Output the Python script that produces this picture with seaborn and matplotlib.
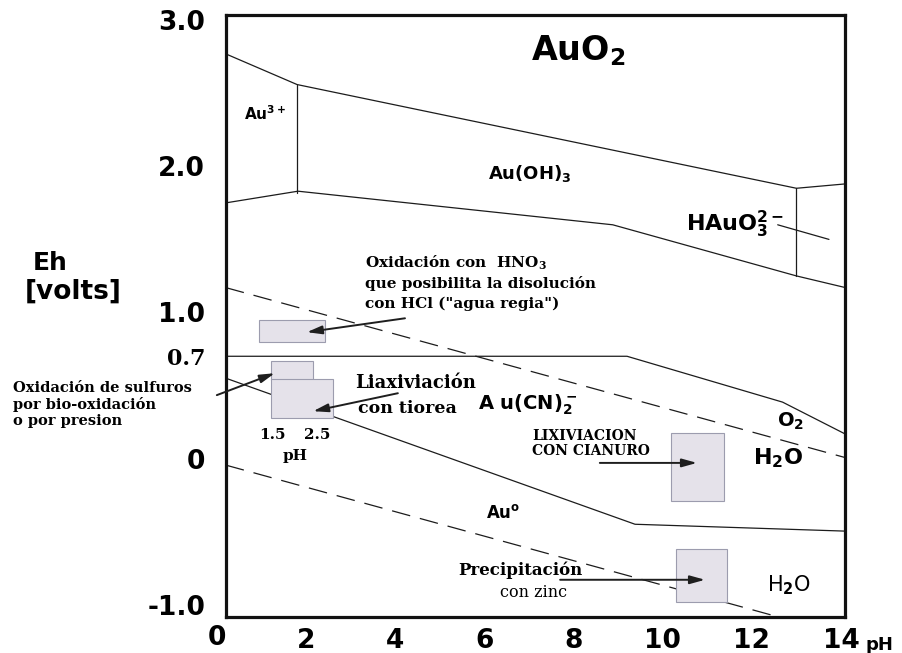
import matplotlib
matplotlib.use("Agg")
import matplotlib.pyplot as plt
import seaborn as sns
import numpy as np

# ---- boundaries of the Eh-pH diagram (pH, Eh in volts) ----
top_ph = [0.2, 1.8, 13.0, 14.1]
top_eh = [2.77, 2.56, 1.85, 1.88]

au3_ph = [1.8, 1.8]
au3_eh = [2.56, 1.82]

oh3_ph = [0.2, 1.82, 8.88, 13.0, 14.1]
oh3_eh = [1.75, 1.83, 1.60, 1.25, 1.17]

hau_ph = [13.0, 13.0]
hau_eh = [1.85, 1.25]

hau_lead_ph = [12.58, 13.73]
hau_lead_eh = [1.60, 1.50]

o2_ph = [0.2, 14.1]          # dashed O2 / H2O
o2_eh = [1.17, 0.006]

h2_ph = [0.2, 12.9]          # dashed H2O / H2
h2_eh = [-0.045, -1.11]

cn_up_ph = [0.2, 9.2, 12.69, 14.1]
cn_up_eh = [0.70, 0.70, 0.386, 0.167]

cn_lo_ph = [0.2, 9.38, 14.1]
cn_lo_eh = [0.55, -0.45, -0.497]

# ---- shaded process windows ----
box_ph_lo = [0.95, 1.22, 1.22, 10.18, 10.29]
box_ph_hi = [2.43, 2.16, 2.61, 11.37, 11.44]
box_eh_lo = [0.796, 0.537, 0.276, -0.291, -0.98]
box_eh_hi = [0.947, 0.666, 0.543, 0.174, -0.62]

# ---- arrows (tail -> head) ----
arr_ph0 = [4.22, 0.0, 4.06, 8.59, 7.70]
arr_eh0 = [0.96, 0.434, 0.447, -0.03, -0.83]
arr_ph1 = [2.02, 1.30, 2.16, 10.77, 10.95]
arr_eh1 = [0.865, 0.584, 0.324, -0.03, -0.83]

x_ticks = [2, 4, 6, 8, 10, 12, 14]
y_ticks = [-1.0, 0.0, 0.7, 1.0, 2.0, 3.0]
y_labels = ["-1.0", "0", "0.7", "1.0", "2.0", "3.0"]

sns.set_style("white")
plt.rcParams['font.family'] = ['DejaVu Sans']
plt.rcParams['font.weight'] = 'bold'
plt.rcParams['text.color'] = 'black'
plt.rcParams['xtick.color'] = 'black'
plt.rcParams['ytick.color'] = 'black'
plt.rcParams['mathtext.fontset'] = 'custom'
plt.rcParams['mathtext.rm'] = 'DejaVu Sans:bold'
plt.rcParams['mathtext.it'] = 'DejaVu Sans:bold'
plt.rcParams['mathtext.bf'] = 'DejaVu Serif:bold'

SERIF = ['DejaVu Serif']
LC = '#1c1c1c'

fig = plt.figure(figsize=(9.03, 6.53), dpi=100)
ax = fig.add_axes([0.2503, 0.0551, 0.6855, 0.9219])

def line(xs, ys, dashed=False):
    sns.lineplot(x=xs, y=ys, sort=False, estimator=None, color=LC, lw=0.9, ax=ax, zorder=2)
    if dashed:
        ax.lines[-1].set_dashes((15, 8))

for xs, ys in [(top_ph, top_eh), (au3_ph, au3_eh), (oh3_ph, oh3_eh), (hau_ph, hau_eh),
               (hau_lead_ph, hau_lead_eh), (cn_up_ph, cn_up_eh), (cn_lo_ph, cn_lo_eh)]:
    line(xs, ys)
line(o2_ph, o2_eh, dashed=True)
line(h2_ph, h2_eh, dashed=True)

lo = np.array(box_ph_lo); hi = np.array(box_ph_hi)
elo = np.array(box_eh_lo); ehi = np.array(box_eh_hi)
ax.bar(lo, ehi - elo, width=hi - lo, bottom=elo, align='edge',
       color='#e5e2ea', edgecolor='#9c9cae', linewidth=0.8, zorder=3)

for x0, y0, x1, y1 in zip(arr_ph0, arr_eh0, arr_ph1, arr_eh1):
    ax.annotate("", xy=(x1, y1), xytext=(x0, y0), annotation_clip=False,
                arrowprops=dict(arrowstyle='-|>,head_length=0.9,head_width=0.25',
                                color='#1e1e1e', lw=1.4, shrinkA=0, shrinkB=0),
                zorder=4)

ax.set_xlim(0.206, 14.09)
ax.set_ylim(-1.085, 3.036)
ax.set_xticks(x_ticks)
ax.set_xticklabels([str(t) for t in x_ticks])
ax.set_yticks(y_ticks)
ax.set_yticklabels(y_labels)
ax.tick_params(axis='x', direction='in', length=8, width=1.2, color=LC, pad=8, labelsize=19)
ax.tick_params(axis='y', direction='in', length=8, width=1.2, color=LC, pad=15, labelsize=19)
for lab in ax.get_yticklabels():
    if lab.get_text() == "0.7":
        lab.set_fontfamily(SERIF)
        lab.set_fontsize(16)
for s in ax.spines.values():
    s.set_linewidth(2.3)
    s.set_color('#111111')
ax.set_xlabel("")
ax.set_ylabel("")
ax.text(0, -0.035, "0", transform=ax.get_xaxis_transform(), ha='center', va='center',
        fontsize=19, fontweight='bold', clip_on=False)

# ---- species labels ----
ax.text(8.11, 2.79, "AuO$_2$", fontsize=24, ha='center', va='center')
ax.text(1.08, 2.36, "Au$^{3+}$", fontsize=11, ha='center', va='center')
ax.text(7.02, 1.95, "Au(OH)$_3$", fontsize=13, ha='center', va='center')
ax.text(11.62, 1.60, "HAuO$_3^{2-}$", fontsize=16, ha='center', va='center')
ax.text(6.98, 0.365, "A u(CN)$_2^-$", fontsize=14, ha='center', va='center')
ax.text(12.87, 0.256, "O$_2$", fontsize=14, ha='center', va='center')
ax.text(12.58, 0.003, "H$_2$O", fontsize=16, ha='center', va='center')
ax.text(6.42, -0.37, "Au$^o$", fontsize=12, ha='center', va='center')
ax.text(12.83, -0.87, "H$_2$O", fontsize=15, ha='center', va='center', fontweight='normal')

# ---- process notes ----
ax.text(3.32, 1.337, "Oxidación con  $\\mathbf{HNO_3}$", family=SERIF, fontsize=11, va='center')
ax.text(3.32, 1.20, "que posibilita la disolución", family=SERIF, fontsize=11, va='center')
ax.text(3.32, 1.06, "con HCl (\"agua regia\")", family=SERIF, fontsize=11, va='center')
ax.text(-4.57, 0.454, "Oxidación de sulfuros", family=SERIF, fontsize=10.5, va='baseline', clip_on=False)
ax.text(-4.57, 0.341, "por bio-oxidación", family=SERIF, fontsize=10.5, va='baseline', clip_on=False)
ax.text(-4.57, 0.228, "o por presion", family=SERIF, fontsize=10.5, va='baseline', clip_on=False)
ax.text(1.24, 0.16, "1.5", family=SERIF, fontsize=11, ha='center', va='center')
ax.text(2.25, 0.16, "2.5", family=SERIF, fontsize=11, ha='center', va='center')
ax.text(1.75, 0.02, "pH", family=SERIF, fontsize=11, ha='center', va='center')
ax.text(3.10, 0.516, "Liaxiviación", family=SERIF, fontsize=13, va='center')
ax.text(3.17, 0.345, "con tiorea", family=SERIF, fontsize=12.5, va='center')
ax.text(7.07, 0.155, "LIXIVIACION", family=SERIF, fontsize=10, va='center')
ax.text(7.07, 0.05, "CON CIANURO", family=SERIF, fontsize=10, va='center')
ax.text(5.41, -0.763, "Precipitación", family=SERIF, fontsize=12, va='center')
ax.text(6.35, -0.92, "con zinc", family=SERIF, fontsize=11.5, va='center', fontweight='normal')

fig.text(0.0365, 0.597, "Eh", fontsize=18, va='center')
fig.text(0.0277, 0.553, "[volts]", fontsize=19, va='center')
fig.text(0.958, 0.012, "pH", fontsize=13, va='center')

fig.savefig("out.png", dpi=100)
